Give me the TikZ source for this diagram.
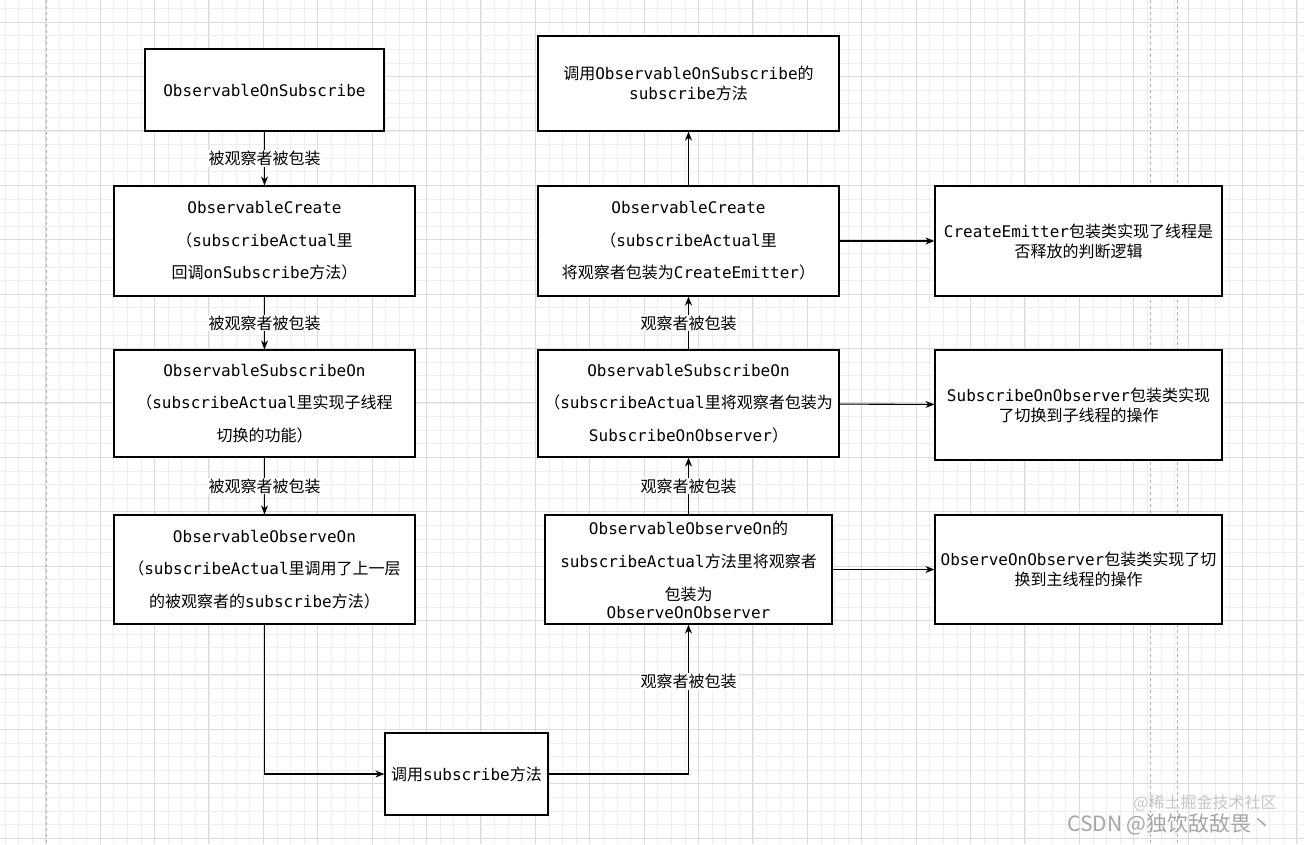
\documentclass[tikz,border=0pt]{standalone}
\usepackage{fontspec}
\setmainfont{DejaVu Sans Mono}
\newfontfamily\cjk{Noto Sans CJK SC}
\newcommand\Z[1]{{\cjk #1}}
\usetikzlibrary{arrows.meta}
\begin{document}
\begin{tikzpicture}[x=1pt,y=-1pt,
 box/.style={draw=black,line width=1.2pt,fill=white,inner sep=0pt,align=center,font=\fontsize{16}{32.5}\selectfont},
 tbox/.style={box,font=\fontsize{16}{20}\selectfont},
 arr/.style={line width=1.1pt,-{Stealth[length=9pt,width=7pt]}},
 lab/.style={fill=white,inner sep=1pt,font=\fontsize{16}{20}\selectfont\cjk}]
\useasboundingbox (0,0) rectangle (1304,844);
\fill[white] (0,0) rectangle (1304,844);
\foreach \i in {0,...,96} {\draw[gray!13,line width=0.6pt] (4.8+13.6*\i,0) -- (4.8+13.6*\i,844);}
\foreach \i in {0,...,62} {\draw[gray!13,line width=0.6pt] (0,8.4+13.6*\i) -- (1304,8.4+13.6*\i);}
\foreach \i in {-1,...,23} {\draw[gray!28,line width=0.7pt] (100+54.4*\i,0) -- (100+54.4*\i,844);}
\foreach \i in {0,...,15} {\draw[gray!28,line width=0.7pt] (0,22+54.4*\i) -- (1304,22+54.4*\i);}
\draw[gray!60,dashed,line width=0.7pt] (46,0) -- (46,844);
\draw[gray!60,dashed,line width=0.7pt] (1150,0) -- (1150,844);
\draw[gray!60,dashed,line width=0.7pt] (1177,0) -- (1177,844);

\node[box,minimum width=239,minimum height=82] (a1) at (264.5,90) {ObservableOnSubscribe};
\node[box,minimum width=301,minimum height=110] (a2) at (264.5,241) {ObservableCreate\\\Z{（}subscribeActual\Z{里}\\\Z{回调}onSubscribe\Z{方法}\Z{）}};
\node[box,minimum width=301,minimum height=107] (a3) at (264.5,403.5) {ObservableSubscribeOn\\\Z{（}subscribeActual\Z{里实现子线程}\\\Z{切换的功能}\Z{）}};
\node[box,minimum width=301,minimum height=109] (a4) at (264.5,569.5) {ObservableObserveOn\\\Z{（}subscribeActual\Z{里调用了上一层}\\\Z{的被观察者的}subscribe\Z{方法}\Z{）}};
\node[box,minimum width=163,minimum height=82] (b0) at (466.5,774) {\Z{调用}subscribe\Z{方法}};

\node[tbox,minimum width=301,minimum height=95] (r0) at (688.5,83.5) {\Z{调用}ObservableOnSubscribe\Z{的}\\subscribe\Z{方法}};
\node[box,minimum width=301,minimum height=110] (r1) at (688.5,241) {ObservableCreate\\\Z{（}subscribeActual\Z{里}\\\Z{将观察者包装为}CreateEmitter\Z{）}};
\node[box,minimum width=301,minimum height=107] (r2) at (688.5,403.5) {ObservableSubscribeOn\\\Z{（}subscribeActual\Z{里将观察者包装为}\\SubscribeOnObserver\Z{）}};
\node[box,minimum width=287,minimum height=109,font=\fontsize{16}{33}\selectfont] (r3) at (688.5,569.5) {ObservableObserveOn\Z{的}\\subscribeActual\Z{方法里将观察者}\\\Z{包装为}\\[-15pt]ObserveOnObserver};

\node[tbox,minimum width=287,minimum height=110] (c1) at (1078.5,241) {CreateEmitter\Z{包装类实现了线程是}\\\Z{否释放的判断逻辑}};
\node[tbox,minimum width=287,minimum height=110] (c2) at (1078.5,405) {SubscribeOnObserver\Z{包装类实现}\\\Z{了切换到子线程的操作}};
\node[tbox,minimum width=287,minimum height=109] (c3) at (1078.5,569.5) {ObserveOnObserver\Z{包装类实现了切}\\\Z{换到主线程的操作}};

\draw[arr] (a1) -- node[lab]{被观察者被包装} (a2);
\draw[arr] (a2) -- node[lab]{被观察者被包装} (a3);
\draw[arr] (a3) -- node[lab]{被观察者被包装} (a4);
\draw[arr] (a4.south) |- (b0.west);
\draw[arr] (b0.east) -| node[lab,pos=0.81]{观察者被包装} (r3.south);
\draw[arr] (r3) -- node[lab]{观察者被包装} (r2);
\draw[arr] (r2) -- node[lab]{观察者被包装} (r1);
\draw[arr] (r1) -- (r0);
\draw[arr] (r1) -- (c1);
\draw[arr] (r2) -- (c2);
\draw[arr] (r3.east) -- (r3.east -| c3.west);

\node[font=\fontsize{16}{18}\cjk,text=gray!45] (w1) at (1205,803) {@稀土掘金技术社区};
\node[font=\fontsize{21}{24}\cjk,text=gray!70] (w2) at (1170,824) {CSDN @独饮敌敌畏丶};
\end{tikzpicture}
\end{document}
